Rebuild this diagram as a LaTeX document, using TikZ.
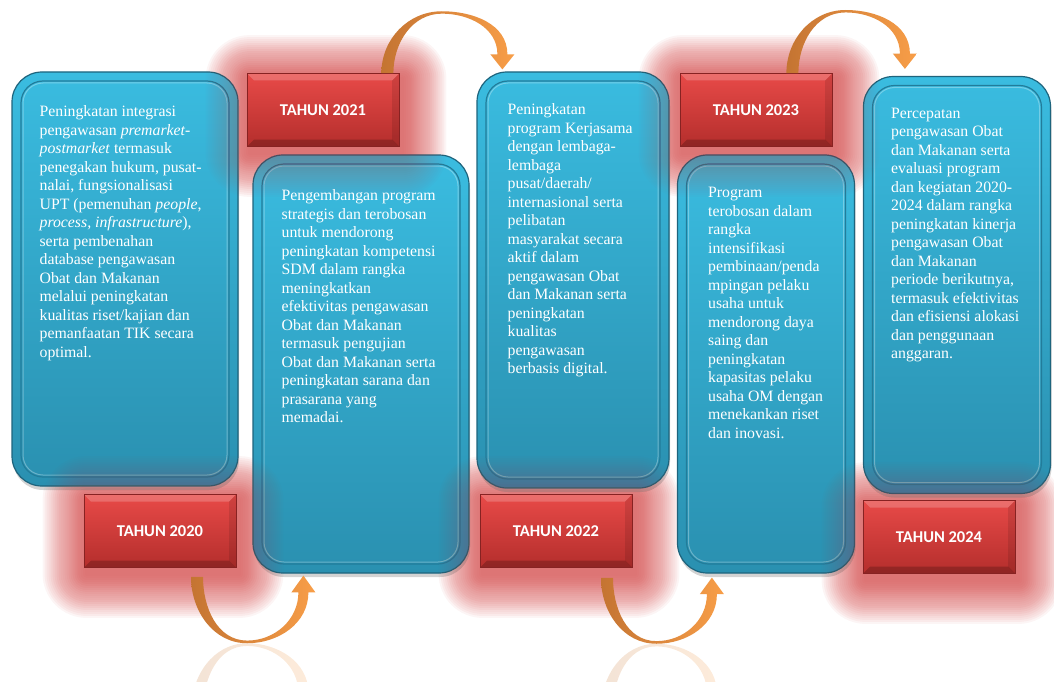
\documentclass[tikz,border=0pt]{standalone}
\usepackage{fontspec}
\setmainfont{Liberation Serif}
\newfontfamily\labelfont{Carlito}
\usepackage{tikz}
\usetikzlibrary{calc}
\usetikzlibrary{positioning}
\usetikzlibrary{shadows}

\definecolor{bluetop}{RGB}{58,188,224}
\definecolor{bluebot}{RGB}{42,144,176}
\definecolor{bluerim}{RGB}{30,100,125}
\definecolor{bluebevel}{RGB}{34,124,154}
\definecolor{redtop}{RGB}{232,74,72}
\definecolor{redbot}{RGB}{180,46,44}
\definecolor{redrim}{RGB}{135,34,34}
\definecolor{glowred}{RGB}{205,50,50}
\definecolor{arrowdark}{RGB}{196,116,50}
\definecolor{arrowlight}{RGB}{248,158,72}

\pgfdeclarelayer{background}
\pgfdeclarelayer{tint}
\pgfsetlayers{background,tint,main}

\tikzset{
    boxnode/.style = {inner sep=0pt, text centered},
    blue_box/.style = {boxnode, rounded corners=30pt, draw=bluerim, line width=1.2pt,
        top color=bluetop, bottom color=bluebot,
        drop shadow={opacity=0.35, shadow xshift=1pt, shadow yshift=-4pt},
        path picture={
            \draw[bluebevel, line width=1.2pt, rounded corners=22pt]
                ([shift={(9pt,9pt)}]path picture bounding box.south west) rectangle
                ([shift={(-9pt,-9pt)}]path picture bounding box.north east);
            \draw[white, opacity=0.3, line width=1pt, rounded corners=20pt]
                ([shift={(11pt,11pt)}]path picture bounding box.south west) rectangle
                ([shift={(-11pt,-11pt)}]path picture bounding box.north east);
        }},
    red_box/.style = {boxnode, draw=redrim, line width=0.8pt, top color=redtop, bottom color=redbot,
        minimum width=152pt, minimum height=73pt, text=white,
        font=\labelfont\bfseries\fontsize{16.5pt}{19pt}\selectfont,
        path picture={
            \fill[white, opacity=0.2] (path picture bounding box.north west) -- (path picture bounding box.north east)
                -- ([shift={(-7pt,-7pt)}]path picture bounding box.north east) -- ([shift={(7pt,-7pt)}]path picture bounding box.north west) -- cycle;
            \fill[black, opacity=0.2] (path picture bounding box.south west) -- (path picture bounding box.south east)
                -- ([shift={(-7pt,7pt)}]path picture bounding box.south east) -- ([shift={(7pt,7pt)}]path picture bounding box.south west) -- cycle;
            \fill[black, opacity=0.1] (path picture bounding box.south east) -- (path picture bounding box.north east)
                -- ([shift={(-7pt,-7pt)}]path picture bounding box.north east) -- ([shift={(-7pt,7pt)}]path picture bounding box.south east) -- cycle;
        }},
    body_text/.style = {inner sep=0pt, align=left, text=white, font=\fontsize{15.8pt}{18.5pt}\selectfont},
    glow_layer/.style = {fill=glowred, opacity=#1},
    arc_arrow/.style = {left color=arrowdark, right color=arrowlight}
}

% soft red halo round a label
\newcommand{\glowbox}[2]{%
    \foreach \r in {2,4,...,44}
        {\fill[glow_layer=#2, rounded corners=\r pt] ($(#1.south west)+(-\r+3,\r+6)$) rectangle ($(#1.north east)+(\r+3,-\r+6)$);}
}

% curved band arrow: start, tip, leaving angle, bend
\newcommand{\bentarrow}[4]{%
    \shade[arc_arrow]
        (#1) to[out=#3, in=180] ($(#1)!0.5!(#2)+#4$)
        to[out=0, in=#3] ($(#2)+0.25*#4+(5,0)$)
        -- ($(#2)+0.25*#4+(12,0)$) -- (#2)
        -- ($(#2)+0.25*#4+(-12,0)$) -- ($(#2)+0.25*#4+(-5,0)$)
        to[out=#3, in=0] ($(#1)!0.5!(#2)+0.96*#4$)
        to[out=180, in=#3] ($(#1)+(12,0)$) -- cycle;
}

\begin{document}
\begin{tikzpicture}
            [x=1pt, y=-1pt]

            \useasboundingbox (0,0) rectangle (1054,682);
            \clip (0,0) rectangle (1054,682);

            % year labels
            \node [red_box] (r2020) at (160,531) {TAHUN 2020};
            \node [red_box] (r2021) at (323,110) {TAHUN 2021};
            \node [red_box] (r2022) at (556,531) {TAHUN 2022};
            \node [red_box] (r2023) at (756,110) {TAHUN 2023};
            \node [red_box] (r2024) at (939,537) {TAHUN 2024};

            % halo, then programme boxes
            \begin{pgfonlayer}{background}
                \foreach \yr in {2020,2021,2022,2023,2024}
                    {\glowbox{r\yr}{0.035}}
                \node [blue_box, minimum width=226pt, minimum height=414pt] (b2020) at (125,279) {};
                \node [blue_box, minimum width=216pt, minimum height=418pt] (b2021) at (361,364) {};
                \node [blue_box, minimum width=192pt, minimum height=416pt] (b2022) at (573,280) {};
                \node [blue_box, minimum width=177pt, minimum height=418pt] (b2023) at (766,364) {};
                \node [blue_box, minimum width=187pt, minimum height=417pt] (b2024) at (957,285) {};
            \end{pgfonlayer}
            \begin{pgfonlayer}{tint}
                \foreach \yr in {2020,2021,2022,2023,2024}
                    {\glowbox{r\yr}{0.014}}
            \end{pgfonlayer}

            \node [body_text, below right=34pt and 28pt of b2020.north west] (t2020)
                {Peningkatan integrasi\\ pengawasan \textit{premarket-}\\ \textit{postmarket} termasuk\\
                 penegakan hukum, pusat-\\ nalai, fungsionalisasi\\ UPT (pemenuhan \textit{people},\\
                 \textit{process, infrastructure}),\\ serta pembenahan\\ database pengawasan\\
                 Obat dan Makanan\\ melalui peningkatan\\ kualitas riset/kajian dan\\
                 pemanfaatan TIK secara\\ optimal.};
            \node [body_text, below right=35pt and 29pt of b2021.north west] (t2021)
                {Pengembangan program\\ strategis dan terobosan\\ untuk mendorong\\
                 peningkatan kompetensi\\ SDM dalam rangka\\ meningkatkan\\ efektivitas pengawasan\\
                 Obat dan Makanan\\ termasuk pengujian\\ Obat dan Makanan serta\\
                 peningkatan sarana dan\\ prasarana yang\\ memadai.};
            \node [body_text, below right=32pt and 31pt of b2022.north west] (t2022)
                {Peningkatan\\ program Kerjasama\\ dengan lembaga-\\ lembaga\\ pusat/daerah/\\
                 internasional serta\\ pelibatan\\ masyarakat secara\\ aktif dalam\\ pengawasan Obat\\
                 dan Makanan serta\\ peningkatan\\ kualitas\\ pengawasan\\ berbasis digital.};
            \node [body_text, below right=33pt and 31pt of b2023.north west] (t2023)
                {Program\\ terobosan dalam\\ rangka\\ intensifikasi\\ pembinaan/penda\\ mpingan pelaku\\
                 usaha untuk\\ mendorong daya\\ saing dan\\ peningkatan\\ kapasitas pelaku\\
                 usaha OM dengan\\ menekankan riset\\ dan inovasi.};
            \node [body_text, below right=32pt and 28pt of b2024.north west] (t2024)
                {Percepatan\\ pengawasan Obat\\ dan Makanan serta\\ evaluasi program\\
                 dan kegiatan 2020-\\ 2024 dalam rangka\\ peningkatan kinerja\\ pengawasan Obat\\
                 dan Makanan\\ periode berikutnya,\\ termasuk efektivitas\\ dan efisiensi alokasi\\
                 dan penggunaan\\ anggaran.};

            % arrows from label to next box
            \coordinate (a1) at ($(r2020.south)+(31,9)$);
            \coordinate (a1t) at ($(b2021.south west)+(51,2)$);
            \coordinate (a2) at ($(r2022.south)+(45,10)$);
            \coordinate (a2t) at ($(b2023.south west)+(35,4)$);
            \coordinate (a3) at ($(r2021.north east)+(-18,0)$);
            \coordinate (a3t) at ($(b2022.north west)+(26,-2)$);
            \coordinate (a4) at ($(r2023.north east)+(-46,0)$);
            \coordinate (a4t) at ($(b2024.north west)+(42,-7)$);

            \bentarrow{a1}{a1t}{-90}{(0,67)}
            \bentarrow{a2}{a2t}{-90}{(0,66)}
            \bentarrow{a3}{a3t}{90}{(0,-60)}
            \bentarrow{a4}{a4t}{90}{(0,-61)}

            % faint mirror of the lower arrows
            \coordinate (a1r) at ($(a1)+(0,134)$);
            \coordinate (a1rt) at ($(a1t)+(0,134)$);
            \coordinate (a2r) at ($(a2)+(0,132)$);
            \coordinate (a2rt) at ($(a2t)+(0,132)$);
            \begin{scope}[opacity=0.2]
                \bentarrow{a1r}{a1rt}{90}{(0,-67)}
                \bentarrow{a2r}{a2rt}{90}{(0,-66)}
            \end{scope}
\end{tikzpicture}
\end{document}
